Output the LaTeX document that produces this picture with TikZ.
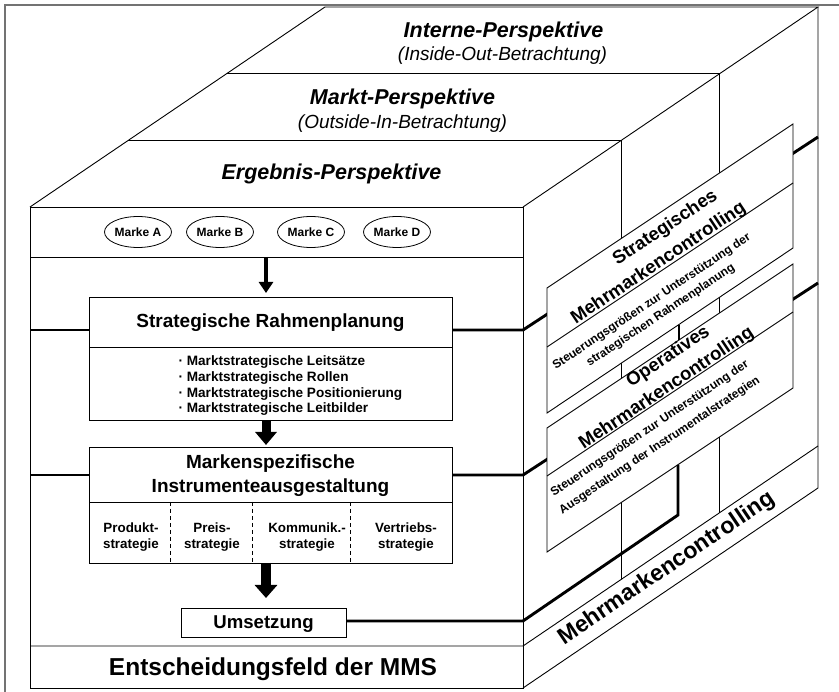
\documentclass[tikz,border=0pt]{standalone}
\usepackage{fontspec}
\setmainfont{Liberation Sans}
\usetikzlibrary{arrows.meta,shapes.geometric}
\newcommand\fsz[2]{\fontsize{#1}{#2}\selectfont}
\begin{document}
\begin{tikzpicture}[x=1pt,y=-1pt,
  cubeedge/.style={line width=0.9pt},
  feed/.style={line width=2.9pt},
  fbox/.style={draw, line width=0.9pt, fill=white, inner sep=0pt},
  marke/.style={ellipse, draw, line width=0.8pt, minimum width=67pt, minimum height=31pt, inner sep=0pt, font=\fsz{12}{14}\bfseries},
  panel/.style={draw, line width=0.9pt, fill=white},
  ttl/.style={font=\fsz{21.5}{24}\bfseries\itshape, anchor=base},
  sub/.style={font=\fsz{19}{22}\itshape, anchor=base},
  hd/.style={font=\fsz{19}{22}\bfseries, anchor=base},
  itm/.style={font=\fsz{13.6}{16}\bfseries, anchor=base west},
  cell/.style={font=\fsz{13.4}{16}\bfseries, anchor=base},
  ptitle/.style={font=\fsz{18.5}{21}\bfseries, anchor=base, rotate=33.7, inner sep=0pt},
  psmall/.style={font=\fsz{12}{14}\bfseries, anchor=base, rotate=33.7, inner sep=0pt},
  cellsep/.style={dashed, dash pattern=on 4pt off 3pt, line width=0.9pt}
]
\useasboundingbox (0,0) rectangle (839,692);
\fill[white] (0,0) rectangle (839,692);

% page frame
\draw[black!55, line width=1.2pt] (5,692) -- (5,5) -- (839,5);

% ---------- cube ----------
\coordinate (F1) at (30,207);
\coordinate (F2) at (523,207);
\coordinate (F3) at (523,688);
\coordinate (F4) at (30,688);
\coordinate (B1) at (325,7);
\coordinate (B2) at (818,7);
\coordinate (B3) at (818,488);
\draw[cubeedge] (F1) rectangle (F3);
\draw[cubeedge] (F1) -- (B1) -- (B2) -- (F2);
\draw[cubeedge] (B2) -- (B3) -- (F3);
% depth slices on top and side face
\draw[cubeedge] (226.7,73.7) -- (719.7,73.7) -- (719.7,512.7);
\draw[cubeedge] (128.3,140.3) -- (621.3,140.3) -- (621.3,579.3);
% bands of the front face
\draw[cubeedge] (30,257) -- (523,257);
\draw[cubeedge] (30,646) -- (523,646) -- (818,446);

% perspective titles
\node[ttl] (tI) at (503.5,38) {Interne-Perspektive};
\node[sub] (sI) at (502.5,61) {(Inside-Out-Betrachtung)};
\node[ttl] (tM) at (402.5,105) {Markt-Perspektive};
\node[sub] (sM) at (402.5,129) {(Outside-In-Betrachtung)};
\node[ttl] (tE) at (331.5,180) {Ergebnis-Perspektive};

% ---------- feedback lines behind the panels ----------
\coordinate (fa0) at (30,330);   \coordinate (fa1) at (89,330);
\coordinate (fa2) at (452,330);  \coordinate (fa3) at (523,330);
\coordinate (fa4) at (818,137);
\coordinate (fb0) at (30,475);   \coordinate (fb1) at (89,475);
\coordinate (fb2) at (452,475);  \coordinate (fb3) at (523,475);
\coordinate (fb4) at (818,283);
\draw[feed] (fa2) -- (fa3) -- (fa4);
\draw[feed] (fb2) -- (fb3) -- (fb4);

% ---------- controlling panels ----------
\draw[panel] (547,288) -- (793,124) -- (793,248) -- (547,413) -- cycle;
\draw[cubeedge] (547,347) -- (793,183);
\draw[panel] (547,428) -- (793,264) -- (793,388) -- (547,552) -- cycle;
\draw[cubeedge] (547,476) -- (793,312);

\node[ptitle] (st1) at (668,232) {Strategisches};
\node[ptitle] (st2) at (661.3,267.5) {Mehrmarkencontrolling};
\node[psmall] (st3) at (653.6,304.5) {Steuerungsgrößen zur Unterstützung der};
\node[psmall] (st4) at (662.5,318) {strategischen Rahmenplanung};

\node[ptitle] (op1) at (671,361) {Operatives};
\node[ptitle] (op2) at (669.3,392.5) {Mehrmarkencontrolling};
\node[psmall] (op3) at (651.6,431.5) {Steuerungsgrößen zur Unterstützung der};
\node[psmall] (op4) at (661.5,448) {Ausgestaltung der Instrumentalstrategien};

% link between the two panels
\coordinate (pl1) at (679,325);
\coordinate (pl2) at (679,340);
\draw[feed] (pl1) -- (pl2);

\node[font=\fsz{23}{26}\bfseries, anchor=base, rotate=34.1, inner sep=0pt] (mmc) at (670.3,573.4) {Mehrmarkencontrolling};

% ---------- front face content ----------
\node[marke] (mA) at (138,232) {Marke A};
\node[marke] (mB) at (220,232) {Marke B};
\node[marke] (mC) at (311,232) {Marke C};
\node[marke] (mD) at (397,232) {Marke D};

% strategic frame planning
\node[fbox, anchor=north west, minimum width=363pt, minimum height=123pt] (sr) at (89,297) {};
\draw[cubeedge] (89,347) -- (452,347);
\node[hd] (srT) at (270.5,328) {Strategische Rahmenplanung};
\node[itm] (b1) at (175,366) {· Marktstrategische Leitsätze};
\node[itm] (b2) at (175,382) {· Marktstrategische Rollen};
\node[itm] (b3) at (175,397.5) {· Marktstrategische Positionierung};
\node[itm] (b4) at (175,413) {· Marktstrategische Leitbilder};

% brand specific instruments
\node[fbox, anchor=north west, minimum width=363pt, minimum height=116pt] (mi) at (89,447) {};
\draw[cubeedge] (89,502) -- (452,502);
\node[hd] (miT1) at (270.5,469) {Markenspezifische};
\node[hd] (miT2) at (270.5,493) {Instrumenteausgestaltung};
\draw[cellsep] (170,502) -- (170,563);
\draw[cellsep] (252,502) -- (252,563);
\draw[cellsep] (350,502) -- (350,563);
\node[cell] at (131,533) {Produkt-};
\node[cell] at (131,549) {strategie};
\node[cell] at (212,533) {Preis-};
\node[cell] at (212,549) {strategie};
\node[cell] at (307,533) {Kommunik.-};
\node[cell] at (307,549) {strategie};
\node[cell] at (406,533) {Vertriebs-};
\node[cell] at (406,549) {strategie};

% implementation
\node[fbox, anchor=north west, minimum width=165pt, minimum height=29pt] (um) at (181,608) {};
\node[font=\fsz{18.6}{22}\bfseries, anchor=base] (umT) at (263.5,629) {Umsetzung};

% decision field
\node[font=\fsz{24.5}{28}\bfseries, anchor=base] (ef) at (273,675) {Entscheidungsfeld der MMS};

% flow arrows
\coordinate (a1s) at (266,257);
\coordinate (a1e) at (266,293);
\draw[line width=4pt, -{Triangle[width=14pt,length=11pt]}] (a1s) -- (a1e);
\coordinate (a2s) at (266,420);
\coordinate (a2e) at (266,445);
\draw[line width=9pt, -{Triangle[width=21pt,length=13pt]}] (a2s) -- (a2e);
\coordinate (a3s) at (266,563);
\coordinate (a3e) at (266,598);
\draw[line width=10pt, -{Triangle[width=22pt,length=13pt]}] (a3s) -- (a3e);

% feedback lines in front
\draw[feed] (fa0) -- (fa1);
\draw[feed] (fb0) -- (fb1);
\coordinate (fc1) at (523,621);
\coordinate (fc2) at (678,515);
\coordinate (fc3) at (678,465);
\draw[feed] (um.east |- fc1) -- (fc1) -- (fc2) -- (fc3);
\end{tikzpicture}
\end{document}
